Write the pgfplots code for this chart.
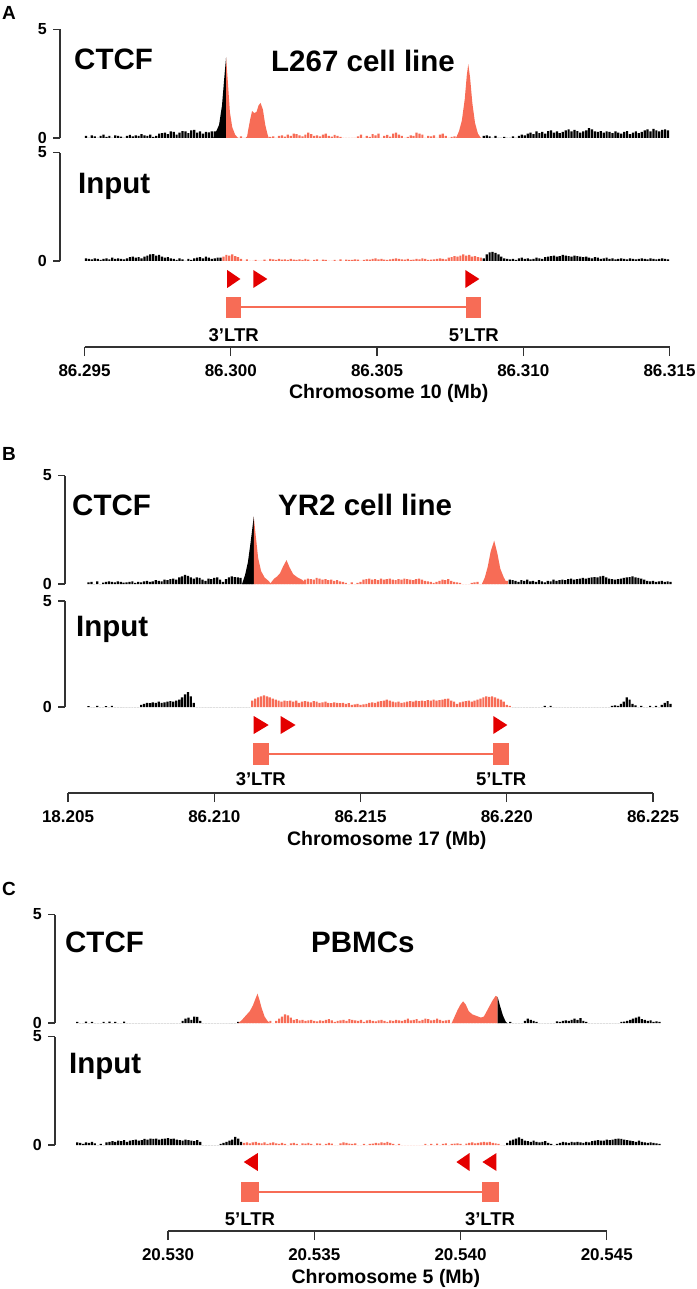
\documentclass[border=0pt]{standalone}
\usepackage{fontspec}
\setmainfont{Liberation Sans}
\usepackage{pgfplots}
\usepackage{pgfplotstable}
\pgfplotsset{compat=1.18}
\definecolor{salmon}{RGB}{247,108,86}
\definecolor{arrowred}{RGB}{228,0,0}
\definecolor{axgray}{RGB}{50,50,50}
\newcommand\trackfont{\fontsize{29.5}{30}\selectfont\bfseries}
\newcommand\tickfont{\fontsize{17}{17}\selectfont\bfseries}
\newcommand\ytickfont{\fontsize{16}{16}\selectfont\bfseries}
\newcommand\ltrfont{\fontsize{18.5}{19}\selectfont\bfseries}
\newcommand\xlabfont{\fontsize{19.5}{20}\selectfont\bfseries}
\newcommand\panelfont{\fontsize{19}{19}\selectfont\bfseries}

% ---------- Panel A (x in kb from 86.295 Mb, bins every 0.1 kb from 0.05) ----------
\pgfplotstableread[row sep=\\,header=false]{
0.1\\0\\0.12\\0.08\\0\\0.1\\0.15\\0.05\\0.1\\0\\
0.12\\0.1\\0.06\\0\\0.1\\0.14\\0.08\\0.12\\0.1\\0.18\\
0.12\\0.1\\0.16\\0.05\\0.1\\0.2\\0.22\\0.25\\0.18\\0.3\\
0.28\\0.15\\0.25\\0.32\\0.3\\0.22\\0.35\\0.38\\0.25\\0.3\\
0.2\\0.28\\0.26\\0.3\\0.3\\0\\0\\0\\0\\0\\
0\\0\\0\\0.08\\0\\0.05\\0\\0\\0\\0\\
0\\0\\0\\0.05\\0.08\\0\\0.1\\0.12\\0.06\\0.15\\
0.1\\0.2\\0.18\\0.12\\0.08\\0.15\\0.25\\0.18\\0.1\\0.12\\
0.08\\0.15\\0.2\\0.1\\0.06\\0.14\\0.1\\0.05\\0\\0\\
0\\0\\0\\0.08\\0.15\\0\\0.1\\0.05\\0.18\\0.12\\
0.2\\0\\0.1\\0.14\\0.06\\0.2\\0.25\\0.15\\0.1\\0\\
0.05\\0.12\\0.1\\0.25\\0.2\\0.15\\0\\0.1\\0.08\\0.12\\
0\\0.15\\0.2\\0.1\\0\\0.05\\0.08\\0\\0\\0\\
0\\0\\0\\0\\0\\0\\0.1\\0.12\\0.08\\0\\
0.1\\0\\0\\0.05\\0\\0\\0.08\\0\\0.1\\0.15\\
0.12\\0.2\\0.25\\0.18\\0.3\\0.22\\0.28\\0.2\\0.32\\0.35\\
0.25\\0.3\\0.22\\0.28\\0.35\\0.4\\0.3\\0.38\\0.32\\0.25\\
0.3\\0.35\\0.45\\0.4\\0.3\\0.28\\0.32\\0.25\\0.3\\0.28\\
0.22\\0.3\\0.25\\0.2\\0.28\\0.32\\0.18\\0.25\\0.3\\0.22\\
0.28\\0.35\\0.4\\0.3\\0.42\\0.35\\0.3\\0.38\\0.4\\0.35\\
}\Actcf
\pgfplotstableread[row sep=\\,header=false]{
0.12\\0.1\\0.08\\0.12\\0.1\\0.05\\0.1\\0.12\\0.08\\0.15\\
0.1\\0.12\\0.1\\0.08\\0.12\\0.18\\0.2\\0.15\\0.18\\0.12\\
0.2\\0.25\\0.3\\0.32\\0.25\\0.28\\0.2\\0.15\\0.18\\0.12\\
0.1\\0.05\\0.12\\0.08\\0\\0.1\\0.05\\0.12\\0.15\\0.18\\
0.12\\0.2\\0.15\\0.1\\0.12\\0.15\\0.15\\0.2\\0.28\\0.25\\
0.3\\0.22\\0.18\\0.1\\0\\0.08\\0\\0\\0.05\\0\\
0\\0.06\\0\\0.1\\0.08\\0.05\\0.1\\0.06\\0.08\\0.05\\
0.1\\0.06\\0.05\\0.08\\0.05\\0.1\\0.06\\0\\0.05\\0.08\\
0\\0.06\\0.05\\0\\0\\0.05\\0\\0.08\\0\\0.06\\
0.05\\0.05\\0.08\\0.06\\0\\0.05\\0.08\\0.06\\0.1\\0.12\\
0.08\\0.1\\0.06\\0.05\\0.08\\0.1\\0.12\\0.1\\0.08\\0.06\\
0.1\\0.05\\0.06\\0.1\\0.08\\0.12\\0.1\\0.05\\0.06\\0.08\\
0.1\\0.12\\0.1\\0.08\\0.15\\0.18\\0.22\\0.2\\0.25\\0.3\\
0.25\\0.28\\0.2\\0.22\\0.18\\0.15\\0.12\\0.3\\0.4\\0.42\\
0.38\\0.3\\0.2\\0.12\\0.1\\0.08\\0.1\\0.05\\0.12\\0.15\\
0.1\\0.12\\0.08\\0.1\\0.15\\0.12\\0.1\\0.18\\0.2\\0.22\\
0.25\\0.2\\0.22\\0.28\\0.25\\0.22\\0.2\\0.25\\0.22\\0.2\\
0.18\\0.2\\0.15\\0.12\\0.18\\0.15\\0.1\\0.12\\0.15\\0.1\\
0.12\\0.08\\0.1\\0.12\\0.1\\0.08\\0.12\\0.1\\0.08\\0.1\\
0.12\\0.1\\0.08\\0.12\\0.1\\0.08\\0.1\\0.12\\0.1\\0.08\\
}\Ainput

% ---------- Panel B (x in kb from 86.205 Mb, bins every 0.1 kb from 0.7) ----------
\pgfplotstableread[row sep=\\,header=false]{
0.08\\0.1\\0\\0.12\\0\\0.06\\0.1\\0.12\\0.1\\0.08\\
0.12\\0.1\\0.06\\0.08\\0.1\\0.12\\0.05\\0.1\\0.08\\0.12\\
0.15\\0.1\\0.12\\0.18\\0.15\\0.12\\0.2\\0.18\\0.22\\0.25\\
0.2\\0.3\\0.35\\0.42\\0.38\\0.3\\0.25\\0.3\\0.28\\0.2\\
0.15\\0.25\\0.22\\0.28\\0.3\\0.2\\0.1\\0.22\\0.3\\0.35\\
0.32\\0.3\\0.28\\0\\0\\0\\0\\0\\0\\0\\
0\\0\\0\\0\\0\\0\\0\\0\\0\\0\\
0\\0\\0\\0\\0.2\\0.25\\0.22\\0.2\\0.28\\0.25\\
0.2\\0.22\\0.18\\0.2\\0.15\\0.18\\0.12\\0.1\\0.05\\0\\
0.08\\0\\0.05\\0.1\\0.2\\0.22\\0.25\\0.2\\0.22\\0.18\\
0.25\\0.2\\0.22\\0.25\\0.2\\0.18\\0.22\\0.2\\0.25\\0.22\\
0.2\\0.18\\0.22\\0.25\\0.2\\0.15\\0.12\\0.1\\0.05\\0.1\\
0.15\\0.2\\0.18\\0.22\\0.15\\0.1\\0.08\\0.05\\0\\0\\
0\\0.05\\0.08\\0.1\\0\\0\\0\\0\\0\\0\\
0\\0\\0\\0.15\\0.2\\0.18\\0.15\\0.1\\0.18\\0.15\\
0.2\\0.12\\0.15\\0.1\\0.18\\0.12\\0.08\\0.15\\0.12\\0.2\\
0.15\\0.18\\0.2\\0.18\\0.22\\0.25\\0.2\\0.22\\0.25\\0.28\\
0.25\\0.28\\0.3\\0.32\\0.3\\0.35\\0.38\\0.3\\0.25\\0.22\\
0.2\\0.22\\0.25\\0.28\\0.3\\0.32\\0.35\\0.3\\0.28\\0.25\\
0.2\\0.15\\0.12\\0.15\\0.1\\0.12\\0.15\\0.1\\0.12\\0.1\\
}\Bctcf
\pgfplotstableread[row sep=\\,header=false]{
0.04\\0\\0\\0.05\\0\\0\\0.04\\0\\0.05\\0\\
0\\0\\0\\0\\0\\0\\0\\0\\0.1\\0.15\\
0.2\\0.18\\0.22\\0.2\\0.25\\0.2\\0.22\\0.25\\0.28\\0.25\\
0.3\\0.35\\0.45\\0.6\\0.7\\0.5\\0.2\\0\\0\\0\\
0\\0\\0\\0\\0\\0\\0\\0\\0\\0\\
0\\0\\0\\0\\0\\0\\0.3\\0.4\\0.45\\0.5\\
0.55\\0.5\\0.45\\0.4\\0.35\\0.3\\0.25\\0.3\\0.28\\0.3\\
0.25\\0.3\\0.2\\0.25\\0.28\\0.25\\0.22\\0.28\\0.25\\0.2\\
0.22\\0.25\\0.2\\0.18\\0.22\\0.2\\0.18\\0.2\\0.15\\0.18\\
0.1\\0.12\\0.15\\0.1\\0.12\\0.15\\0.2\\0.22\\0.2\\0.25\\
0.28\\0.3\\0.35\\0.3\\0.25\\0.22\\0.25\\0.2\\0.22\\0.25\\
0.28\\0.25\\0.3\\0.28\\0.3\\0.28\\0.32\\0.3\\0.35\\0.3\\
0.32\\0.35\\0.38\\0.4\\0.3\\0.25\\0.15\\0.22\\0.25\\0.28\\
0.3\\0.25\\0.3\\0.35\\0.4\\0.45\\0.5\\0.48\\0.5\\0.45\\
0.4\\0.35\\0.25\\0.1\\0.05\\0\\0\\0\\0\\0\\
0\\0\\0\\0\\0\\0\\0.05\\0\\0.05\\0\\
0\\0\\0\\0\\0\\0\\0\\0\\0\\0\\
0\\0\\0\\0\\0\\0\\0\\0\\0\\0.05\\
0.08\\0.05\\0.15\\0.25\\0.45\\0.35\\0.15\\0.08\\0\\0.05\\
0\\0\\0.05\\0\\0.05\\0\\0.1\\0.2\\0.28\\0.15\\
}\Binput

% ---------- Panel C (x in kb from 20.530 Mb, bins every 0.1 kb from -3.1) ----------
\pgfplotstableread[row sep=\\,header=false]{
0.05\\0\\0\\0.06\\0\\0.05\\0\\0\\0\\0.05\\
0\\0.06\\0\\0.05\\0\\0\\0.06\\0\\0\\0\\
0\\0\\0\\0\\0\\0\\0\\0\\0\\0\\
0\\0\\0\\0\\0\\0\\0.1\\0.2\\0.25\\0.15\\
0.3\\0.28\\0.1\\0\\0\\0\\0\\0\\0\\0\\
0\\0\\0\\0\\0\\0.05\\0\\0\\0\\0\\
0\\0\\0\\0\\0\\0.05\\0.1\\0\\0.1\\0.2\\
0.3\\0.4\\0.35\\0.25\\0.15\\0.18\\0.12\\0.15\\0.1\\0.12\\
0.15\\0.1\\0.08\\0.12\\0.1\\0.15\\0.18\\0.12\\0.05\\0.1\\
0.12\\0.15\\0.1\\0.18\\0.15\\0.12\\0.1\\0.15\\0.05\\0.12\\
0.15\\0.1\\0.08\\0.12\\0.15\\0.1\\0.05\\0.12\\0.1\\0.15\\
0.12\\0.1\\0.15\\0.2\\0.12\\0.15\\0.18\\0.1\\0.15\\0.2\\
0.18\\0.12\\0.15\\0.2\\0.15\\0.1\\0.12\\0.15\\0\\0\\
0\\0\\0\\0\\0\\0\\0\\0\\0\\0\\
0\\0\\0\\0\\0\\0\\0\\0\\0.05\\0\\
0\\0\\0\\0.1\\0.2\\0.15\\0.1\\0.05\\0\\0\\
0\\0\\0\\0\\0.08\\0.05\\0.1\\0.12\\0.1\\0.15\\
0.2\\0.15\\0.22\\0.1\\0.05\\0\\0\\0\\0\\0\\
0\\0\\0\\0\\0\\0\\0.05\\0.06\\0.1\\0.15\\
0.2\\0.25\\0.3\\0.18\\0.15\\0.1\\0.12\\0.05\\0.08\\0.05\\
}\Cctcf
\pgfplotstableread[row sep=\\,header=false]{
0.12\\0.1\\0.05\\0.12\\0.1\\0.15\\0.08\\0\\0.05\\0\\
0.12\\0.15\\0.18\\0.15\\0.2\\0.18\\0.22\\0.15\\0.2\\0.22\\
0.25\\0.2\\0.22\\0.28\\0.25\\0.3\\0.28\\0.3\\0.25\\0.28\\
0.3\\0.32\\0.28\\0.3\\0.25\\0.22\\0.2\\0.25\\0.22\\0.2\\
0.18\\0.22\\0.15\\0\\0\\0\\0\\0\\0\\0.05\\
0.1\\0.15\\0.2\\0.25\\0.38\\0.3\\0.15\\0.1\\0.12\\0.08\\
0.12\\0.15\\0.1\\0.08\\0.12\\0.05\\0.1\\0.12\\0.08\\0.05\\
0.1\\0.05\\0\\0.08\\0.1\\0.05\\0\\0.08\\0.06\\0.1\\
0.05\\0\\0.08\\0.06\\0\\0.05\\0.1\\0.06\\0\\0\\
0.08\\0.12\\0.1\\0.06\\0.05\\0.08\\0\\0\\0.05\\0\\
0.05\\0.06\\0.1\\0.08\\0.12\\0.1\\0.15\\0.1\\0.05\\0\\
0.05\\0\\0\\0\\0\\0\\0\\0\\0\\0.05\\
0\\0.05\\0\\0.06\\0\\0.05\\0.08\\0\\0.05\\0.06\\
0.08\\0.05\\0\\0.06\\0.1\\0.12\\0.08\\0.1\\0.12\\0.15\\
0.12\\0.15\\0.1\\0.08\\0.05\\0\\0\\0.1\\0.2\\0.25\\
0.3\\0.35\\0.28\\0.2\\0.18\\0.15\\0.2\\0.15\\0.12\\0.15\\
0.18\\0.1\\0.05\\0\\0.05\\0.1\\0.15\\0.12\\0.1\\0.15\\
0.12\\0.15\\0.12\\0.1\\0.15\\0.12\\0.18\\0.2\\0.22\\0.2\\
0.2\\0.25\\0.22\\0.25\\0.28\\0.3\\0.28\\0.25\\0.22\\0.2\\
0.18\\0.15\\0.2\\0.15\\0.12\\0.1\\0.12\\0.1\\0.08\\0.05\\
}\Cinput

\pgfplotsset{
  track/.style={anchor=south west, x=29.25pt, y=21.7pt, ymin=0, ymax=5,
    axis x line=none, axis y line*=left,
    ytick={0,5}, yticklabels={0,5},
    tick align=outside, major tick length=7pt,
    axis line style={line width=1.1pt, draw=axgray},
    major tick style={line width=1.1pt, draw=axgray},
    yticklabel style={font=\ytickfont, inner sep=0pt, anchor=east, xshift=-6pt}},
  noise/.style={ybar, bar width=0.075, bar shift=0pt, draw=none, fill=#1},
  annot/.style={anchor=south west, x=29.25pt, y=1pt, ymin=0,
    axis y line=none, axis x line*=bottom,
    tick align=outside, major tick length=9pt,
    axis line style={line width=1.1pt, draw=axgray},
    major tick style={line width=1.1pt, draw=axgray},
    xticklabel style={font=\tickfont, inner sep=0pt, anchor=base, yshift=-20pt},
    clip=false},
}

\begin{document}
\begin{tikzpicture}
\useasboundingbox (0,0) rectangle (696pt,-1289pt);

% ================= Panel A =================
\node[anchor=base west, inner sep=0pt, font=\panelfont] at (2pt,-20pt) {A};
\begin{axis}[track, at={(60pt,-138pt)}, xmin=-0.838, xmax=20.0]
\addplot[noise=black, restrict x to domain=-5:4.84] table[x expr=\coordindex*0.1+0.05, y index=0] {\Actcf};
\addplot[noise=salmon, restrict x to domain=4.84:13.6] table[x expr=\coordindex*0.1+0.05, y index=0] {\Actcf};
\addplot[noise=black, restrict x to domain=13.6:30] table[x expr=\coordindex*0.1+0.05, y index=0] {\Actcf};
\addplot[fill=black, draw=none] coordinates {(4.40,0)(4.50,0.3)(4.60,0.6)(4.70,1.5)(4.78,2.8)(4.84,3.72)(4.84,0)};
\addplot[fill=salmon, draw=none] coordinates {(4.84,0)(4.84,3.72)(4.90,2.6)(4.97,1.2)(5.05,0.5)(5.15,0.15)(5.25,0)};
\addplot[fill=salmon, draw=none] coordinates {(5.55,0)(5.60,0.4)(5.67,0.9)(5.73,1.25)(5.80,1.15)(5.88,1.2)(5.95,1.5)(6.02,1.62)(6.10,1.3)(6.18,0.6)(6.26,0.15)(6.30,0)};
\addplot[fill=salmon, draw=none] coordinates {(12.70,0)(12.80,0.3)(12.90,0.8)(13.00,1.8)(13.07,2.9)(13.12,3.4)(13.18,2.8)(13.26,1.6)(13.35,0.7)(13.45,0.2)(13.55,0)};
\end{axis}
\begin{axis}[track, at={(60pt,-261pt)}, xmin=-0.838, xmax=20.0]
\addplot[noise=black, restrict x to domain=-5:4.67] table[x expr=\coordindex*0.1+0.05, y index=0] {\Ainput};
\addplot[noise=salmon, restrict x to domain=4.67:13.62] table[x expr=\coordindex*0.1+0.05, y index=0] {\Ainput};
\addplot[noise=black, restrict x to domain=13.62:30] table[x expr=\coordindex*0.1+0.05, y index=0] {\Ainput};
\end{axis}
\node[anchor=base west, inner sep=0pt, font=\trackfont] at (74pt,-70pt) {CTCF};
\node[anchor=base west, inner sep=0pt, font=\trackfont] at (271pt,-72pt) {L267 cell line};
\node[anchor=base west, inner sep=0pt, font=\trackfont] at (78pt,-194pt) {Input};
\begin{axis}[annot, at={(84.5pt,-347pt)}, xmin=0, xmax=20, ymax=85,
  xtick={0,5,10,15,20}, xticklabels={86.295,86.300,86.305,86.310,86.315}]
\addplot[fill=arrowred, draw=none] coordinates {(4.88,59)(4.88,77)(5.33,68)};
\addplot[fill=arrowred, draw=none] coordinates {(5.77,59)(5.77,77)(6.25,68)};
\addplot[fill=arrowred, draw=none] coordinates {(13.02,59)(13.02,77)(13.50,68)};
\addplot[salmon, line width=1.5pt] coordinates {(5.36,40)(13.05,40)};
\addplot[fill=salmon, draw=none] coordinates {(4.84,29)(5.36,29)(5.36,50)(4.84,50)};
\addplot[fill=salmon, draw=none] coordinates {(13.05,29)(13.57,29)(13.57,50)(13.05,50)};
\node[anchor=base, font=\ltrfont] at (axis cs:5.10,6) {3'LTR};
\node[anchor=base, font=\ltrfont] at (axis cs:13.31,6) {5'LTR};
\node[anchor=base, font=\xlabfont] at (axis cs:10.4,-51) {Chromosome 10 (Mb)};
\end{axis}

% ================= Panel B =================
\node[anchor=base west, inner sep=0pt, font=\panelfont] at (2pt,-460pt) {B};
\begin{axis}[track, at={(65pt,-584pt)}, xmin=-0.103, xmax=20.75]
\addplot[noise=black, restrict x to domain=-5:6.35] table[x expr=\coordindex*0.1+0.7, y index=0] {\Bctcf};
\addplot[noise=salmon, restrict x to domain=6.35:15.04] table[x expr=\coordindex*0.1+0.7, y index=0] {\Bctcf};
\addplot[noise=black, restrict x to domain=15.04:30] table[x expr=\coordindex*0.1+0.7, y index=0] {\Bctcf};
\addplot[fill=black, draw=none] coordinates {(5.95,0)(6.05,0.4)(6.15,1.0)(6.25,2.0)(6.35,3.1)(6.35,0)};
\addplot[fill=salmon, draw=none] coordinates {(6.35,0)(6.35,3.1)(6.42,2.2)(6.50,1.2)(6.60,0.6)(6.72,0.3)(6.85,0.15)(6.95,0)};
\addplot[fill=salmon, draw=none] coordinates {(6.90,0)(7.05,0.25)(7.15,0.35)(7.25,0.5)(7.35,0.8)(7.47,1.1)(7.58,0.75)(7.70,0.45)(7.85,0.3)(8.00,0.2)(8.15,0)};
\addplot[fill=salmon, draw=none] coordinates {(14.15,0)(14.25,0.3)(14.35,0.8)(14.45,1.5)(14.57,2.0)(14.68,1.4)(14.78,0.7)(14.90,0.3)(15.02,0)};
\end{axis}
\begin{axis}[track, at={(65pt,-707pt)}, xmin=-0.103, xmax=20.75, y=21.2pt]
\addplot[noise=black, restrict x to domain=-5:6.25] table[x expr=\coordindex*0.1+0.7, y index=0] {\Binput};
\addplot[noise=salmon, restrict x to domain=6.25:15.15] table[x expr=\coordindex*0.1+0.7, y index=0] {\Binput};
\addplot[noise=black, restrict x to domain=15.15:30] table[x expr=\coordindex*0.1+0.7, y index=0] {\Binput};
\end{axis}
\node[anchor=base west, inner sep=0pt, font=\trackfont] at (72pt,-515pt) {CTCF};
\node[anchor=base west, inner sep=0pt, font=\trackfont] at (278pt,-515pt) {YR2 cell line};
\node[anchor=base west, inner sep=0pt, font=\trackfont] at (76pt,-636pt) {Input};
\begin{axis}[annot, at={(68pt,-793pt)}, xmin=0, xmax=20, ymax=85,
  xtick={0,5,10,15,20}, xticklabels={18.205,86.210,86.215,86.220,86.225}]
\addplot[fill=arrowred, draw=none] coordinates {(6.35,59)(6.35,77)(6.86,68)};
\addplot[fill=arrowred, draw=none] coordinates {(7.27,59)(7.27,77)(7.78,68)};
\addplot[fill=arrowred, draw=none] coordinates {(14.54,59)(14.54,77)(15.02,68)};
\addplot[salmon, line width=1.5pt] coordinates {(6.86,39)(14.54,39)};
\addplot[fill=salmon, draw=none] coordinates {(6.31,28)(6.86,28)(6.86,50)(6.31,50)};
\addplot[fill=salmon, draw=none] coordinates {(14.54,28)(15.09,28)(15.09,50)(14.54,50)};
\node[anchor=base, font=\ltrfont] at (axis cs:6.59,8) {3'LTR};
\node[anchor=base, font=\ltrfont] at (axis cs:14.81,8) {5'LTR};
\node[anchor=base, font=\xlabfont] at (axis cs:10.9,-52) {Chromosome 17 (Mb)};
\end{axis}

% ================= Panel C =================
\node[anchor=base west, inner sep=0pt, font=\panelfont] at (2pt,-895pt) {C};
\begin{axis}[track, at={(55pt,-1023pt)}, xmin=-3.863, xmax=16.96]
\addplot[noise=black, restrict x to domain=-10:2.42] table[x expr=\coordindex*0.1-3.1, y index=0] {\Cctcf};
\addplot[noise=salmon, restrict x to domain=2.42:11.27] table[x expr=\coordindex*0.1-3.1, y index=0] {\Cctcf};
\addplot[noise=black, restrict x to domain=11.27:30] table[x expr=\coordindex*0.1-3.1, y index=0] {\Cctcf};
\addplot[fill=salmon, draw=none] coordinates {(2.40,0)(2.50,0.1)(2.60,0.25)(2.70,0.4)(2.80,0.55)(2.90,0.8)(3.00,1.15)(3.06,1.35)(3.12,1.1)(3.20,0.7)(3.30,0.3)(3.40,0.1)(3.48,0)};
\addplot[fill=salmon, draw=none] coordinates {(9.70,0)(9.80,0.3)(9.90,0.6)(10.00,0.85)(10.09,1.0)(10.18,0.85)(10.28,0.55)(10.40,0.4)(10.50,0.35)(10.60,0.3)(10.70,0.25)(10.80,0.3)(10.90,0.55)(11.00,0.8)(11.10,1.05)(11.20,1.25)(11.27,1.2)(11.27,0)};
\addplot[fill=black, draw=none] coordinates {(11.27,0)(11.27,1.2)(11.35,0.8)(11.45,0.35)(11.55,0.05)(11.60,0)};
\end{axis}
\begin{axis}[track, at={(55pt,-1145pt)}, xmin=-3.863, xmax=16.96]
\addplot[noise=black, restrict x to domain=-10:2.58] table[x expr=\coordindex*0.1-3.1, y index=0] {\Cinput};
\addplot[noise=salmon, restrict x to domain=2.58:11.45] table[x expr=\coordindex*0.1-3.1, y index=0] {\Cinput};
\addplot[noise=black, restrict x to domain=11.45:30] table[x expr=\coordindex*0.1-3.1, y index=0] {\Cinput};
\end{axis}
\node[anchor=base west, inner sep=0pt, font=\trackfont] at (65pt,-952pt) {CTCF};
\node[anchor=base west, inner sep=0pt, font=\trackfont] at (311pt,-952pt) {PBMCs};
\node[anchor=base west, inner sep=0pt, font=\trackfont] at (69pt,-1073pt) {Input};
\begin{axis}[annot, at={(168pt,-1231pt)}, xmin=0, xmax=15, ymax=86,
  xtick={0,5,10,15}, xticklabels={20.530,20.535,20.540,20.545}]
\addplot[fill=arrowred, draw=none] coordinates {(3.07,60)(3.07,78)(2.59,69)};
\addplot[fill=arrowred, draw=none] coordinates {(10.31,60)(10.31,78)(9.86,69)};
\addplot[fill=arrowred, draw=none] coordinates {(11.23,60)(11.23,78)(10.75,69)};
\addplot[salmon, line width=1.5pt] coordinates {(3.11,39)(10.72,39)};
\addplot[fill=salmon, draw=none] coordinates {(2.49,29)(3.11,29)(3.11,49)(2.49,49)};
\addplot[fill=salmon, draw=none] coordinates {(10.72,29)(11.30,29)(11.30,49)(10.72,49)};
\node[anchor=base, font=\ltrfont] at (axis cs:2.80,6) {5'LTR};
\node[anchor=base, font=\ltrfont] at (axis cs:11.01,6) {3'LTR};
\node[anchor=base, font=\xlabfont] at (axis cs:7.45,-52) {Chromosome 5 (Mb)};
\end{axis}
\end{tikzpicture}
\end{document}
